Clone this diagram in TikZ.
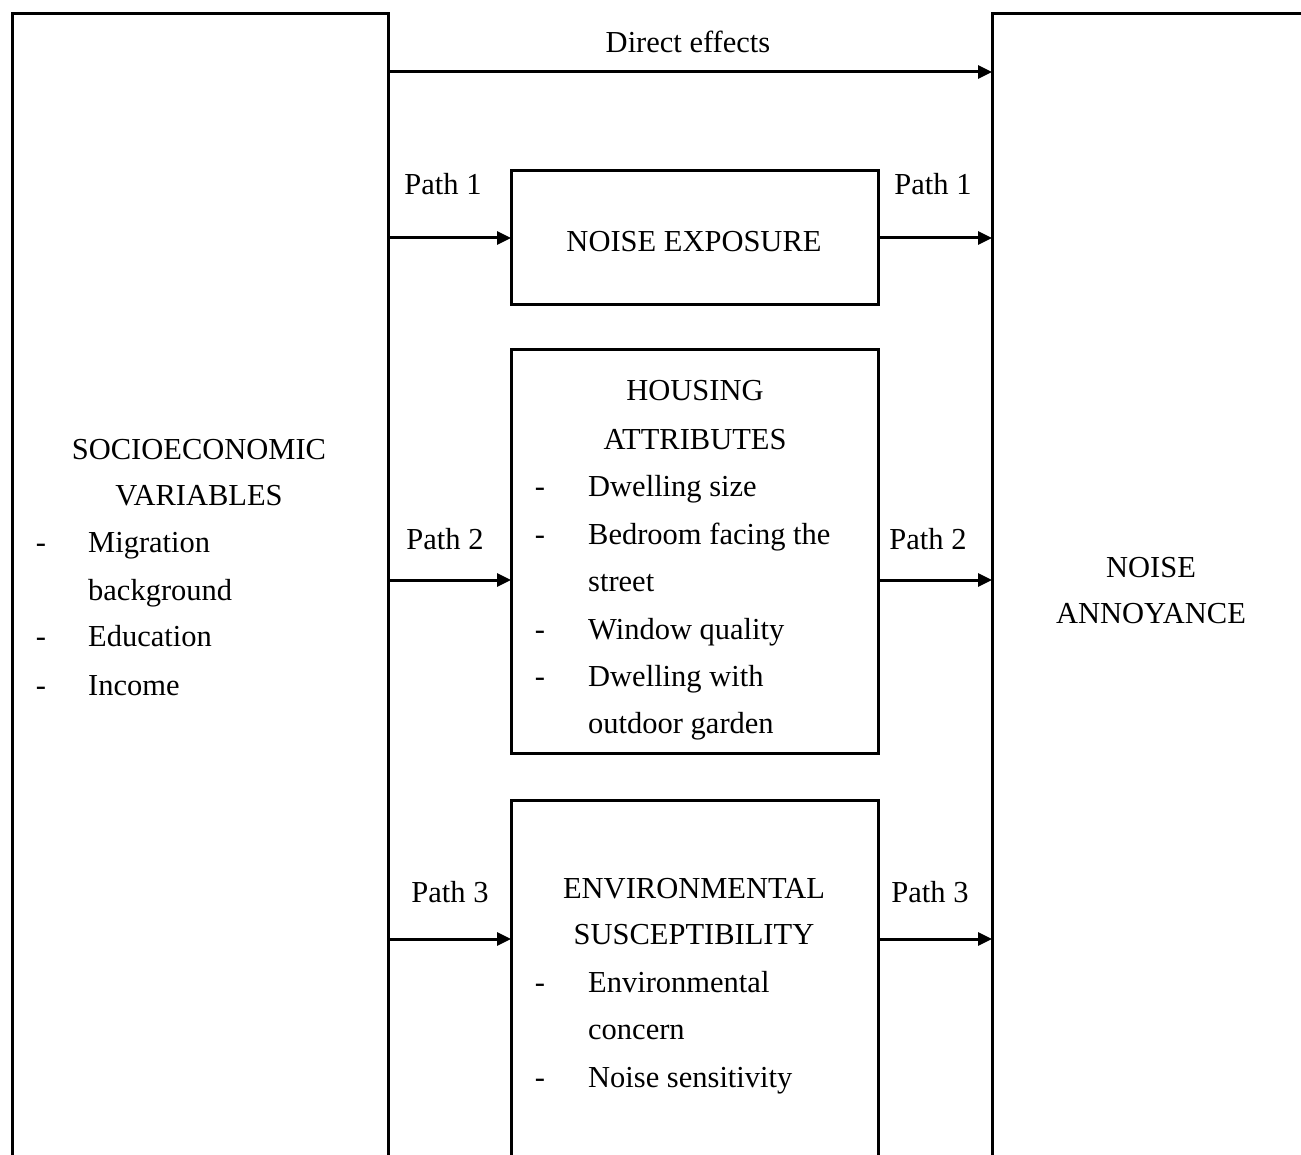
\documentclass[tikz,border=0pt]{standalone}
\usepackage{fontspec}
\setmainfont{Liberation Serif}
\usetikzlibrary{arrows.meta}
\begin{document}
\begin{tikzpicture}[x=1pt,y=-1pt,
  boxline/.style={line width=3pt},
  boxnode/.style={draw, line width=3pt, inner sep=0pt, outer sep=0pt, anchor=north west},
  arr/.style={line width=3pt, -{Triangle[length=14pt,width=13pt]}},
  lbl/.style={inner sep=0pt, anchor=base, font=\fontsize{30.5}{36}\selectfont},
  lbll/.style={inner sep=0pt, anchor=base west, font=\fontsize{30.5}{36}\selectfont}]
\useasboundingbox (0,0) rectangle (1301,1155);
% outer boxes (cut off at the bottom / right)
\node[inner sep=0pt, outer sep=0pt, anchor=north west, minimum width=376pt, minimum height=1150pt] (soc) at (12,14) {};
\node[inner sep=0pt, outer sep=0pt, anchor=north west, minimum width=330pt, minimum height=1150pt] (ann) at (992,14) {};
\draw[boxline] (soc.south west) -- (soc.north west) -- (soc.north east) -- (soc.south east);
\draw[boxline] (ann.north east) -- (ann.north west) -- (ann.south west);
% middle boxes
\node[boxnode, minimum width=367pt, minimum height=134pt] (nexp) at (511,171) {};
\node[boxnode, minimum width=367pt, minimum height=403pt] (hous) at (511,350) {};
\node[inner sep=0pt, outer sep=0pt, anchor=north west, minimum width=367pt, minimum height=370pt] (env) at (511,800) {};
\draw[boxline] (env.south west) -- (env.north west) -- (env.north east) -- (env.south east);
% arrows
\draw[arr] (soc.east |- 0,72) -- (ann.west |- 0,72);
\draw[arr] (soc.east |- nexp.west) -- (nexp.west);
\draw[arr] (nexp.east) -- (ann.west |- nexp.east);
\draw[arr] (soc.east |- 0,580) -- (hous.west |- 0,580);
\draw[arr] (hous.east |- 0,580) -- (ann.west |- 0,580);
\draw[arr] (soc.east |- 0,939) -- (env.west |- 0,939);
\draw[arr] (env.east |- 0,939) -- (ann.west |- 0,939);
% arrow labels
\node[lbl] (tdir) at (688,53) {Direct effects};
\node[lbl] (p1a) at (443,195) {Path 1};
\node[lbl] (p1b) at (933,195) {Path 1};
\node[lbl] (p2a) at (445,549) {Path 2};
\node[lbl] (p2b) at (928,549) {Path 2};
\node[lbl] (p3a) at (450,902) {Path 3};
\node[lbl] (p3b) at (930,902) {Path 3};
% socioeconomic
\node[lbl] (s1) at (199,459) {SOCIOECONOMIC};
\node[lbl] (s2) at (199,505) {VARIABLES};
\node[lbl] (sd1) at (41,552) {-};
\node[lbll] (s3) at (88,552) {Migration};
\node[lbll] (s4) at (88,600) {background};
\node[lbl] (sd2) at (41,646) {-};
\node[lbll] (s5) at (88,646) {Education};
\node[lbl] (sd3) at (41,695) {-};
\node[lbll] (s6) at (88,695) {Income};
% annoyance
\node[lbl] (a1) at (1151,577) {NOISE};
\node[lbl] (a2) at (1151,623) {ANNOYANCE};
% noise exposure
\node[lbl] (n1) at (694,252) {NOISE EXPOSURE};
% housing
\node[lbl] (h1) at (695,401) {HOUSING};
\node[lbl] (h2) at (695,449) {ATTRIBUTES};
\node[lbl] (hd1) at (540,496) {-};
\node[lbll] (h3) at (588,496) {Dwelling size};
\node[lbl] (hd2) at (540,544) {-};
\node[lbll] (h4) at (588,544) {Bedroom facing the};
\node[lbll] (h5) at (588,591) {street};
\node[lbl] (hd3) at (540,639) {-};
\node[lbll] (h6) at (588,639) {Window quality};
\node[lbl] (hd4) at (540,686) {-};
\node[lbll] (h7) at (588,686) {Dwelling with};
\node[lbll] (h8) at (588,733) {outdoor garden};
% environmental
\node[lbl] (e1) at (694,898) {ENVIRONMENTAL};
\node[lbl] (e2) at (694,944) {SUSCEPTIBILITY};
\node[lbl] (ed1) at (540,992) {-};
\node[lbll] (e3) at (588,992) {Environmental};
\node[lbll] (e4) at (588,1039) {concern};
\node[lbl] (ed2) at (540,1087) {-};
\node[lbll] (e5) at (588,1087) {Noise sensitivity};
\end{tikzpicture}
\end{document}
